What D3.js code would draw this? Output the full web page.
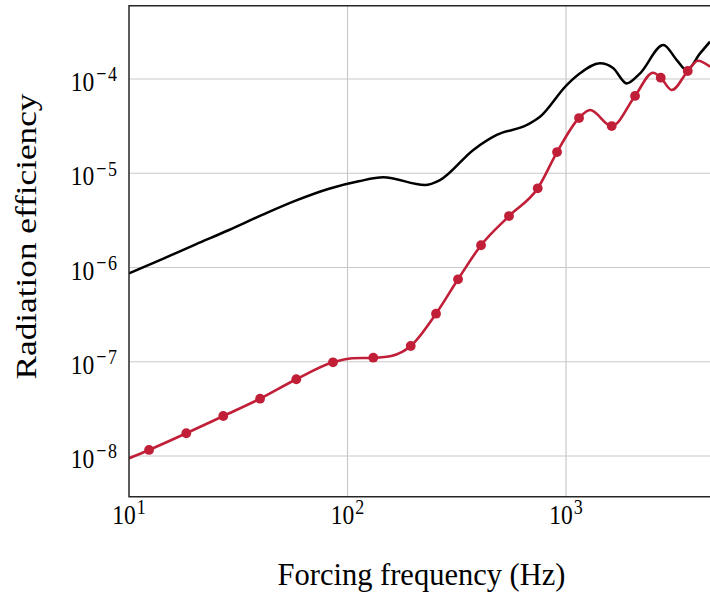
<!DOCTYPE html>
<html><head><meta charset="utf-8">
<script src="https://cdn.jsdelivr.net/npm/d3@7/dist/d3.min.js"></script>
<style>
body{margin:0;background:#fff}
svg{display:block}
text{font-family:"Liberation Serif","Times New Roman",serif;fill:#000}
</style>
</head><body>
<svg id="c" width="710" height="592"></svg>
<script>
// Black curve (frequency in Hz, radiation efficiency)
const blackFreq = [10, 14.2, 20.2, 28.7, 40.7, 57.9, 82.3, 112.5, 145.8, 226.3, 265, 376.5, 481.8, 660.9, 760.3, 1007, 1159, 1431, 1641, 1896, 2182, 2788, 3211, 3567, 4106, 4560];
const blackVal  = [8.67e-7, 1.23e-6, 1.76e-6, 2.50e-6, 3.61e-6, 5.12e-6, 6.85e-6, 8.22e-6, 9.06e-6, 7.50e-6, 8.47e-6, 1.77e-5, 2.55e-5, 3.25e-5, 3.98e-5, 8.63e-5, 1.15e-4, 1.47e-4, 1.31e-4, 8.99e-5, 1.15e-4, 2.30e-4, 1.59e-4, 1.24e-4, 1.87e-4, 2.49e-4];

// Red curve (line)
const redFreq = [10, 12.35, 18.29, 27.0, 39.8, 58.3, 85.8, 104.9, 131.2, 160, 194.6, 254.1, 320.4, 408.3, 548.3, 742.1, 909.6, 1147, 1288, 1618, 2069, 2501, 2713, 3047, 3606, 4018, 4560];
const redVal  = [9.46e-9, 1.159e-8, 1.742e-8, 2.655e-8, 4.055e-8, 6.52e-8, 9.86e-8, 1.089e-7, 1.104e-7, 1.16e-7, 1.469e-7, 3.236e-7, 7.50e-7, 1.722e-6, 3.516e-6, 6.92e-6, 1.679e-5, 3.855e-5, 4.69e-5, 3.17e-5, 6.61e-5, 1.166e-4, 1.033e-4, 7.64e-5, 1.216e-4, 1.563e-4, 1.352e-4];

// Red markers
const markerFreq = [12.35, 18.29, 27.0, 39.8, 58.3, 85.8, 131.2, 194.6, 254.1, 320.4, 408.3, 548.3, 742.1, 909.6, 1147, 1618, 2069, 2713, 3606];
const markerVal  = [1.159e-8, 1.742e-8, 2.655e-8, 4.055e-8, 6.52e-8, 9.86e-8, 1.104e-7, 1.469e-7, 3.236e-7, 7.50e-7, 1.722e-6, 3.516e-6, 6.92e-6, 1.679e-5, 3.855e-5, 3.17e-5, 6.61e-5, 1.033e-4, 1.216e-4];

const xTickExp = [1, 2, 3];
const yTickExp = [-8, -7, -6, -5, -4];
const xLabel = "Forcing frequency (Hz)";
const yLabel = "Radiation efficiency";

const L = 129, T = 5.7, B = 496.7, R = 713.9;
const svg = d3.select("#c");
const x = d3.scaleLog().domain([10, 4750]).range([L, R]);
const y = d3.scaleLog().domain([Math.pow(10, -8.432), Math.pow(10, -3.222)]).range([B, T]);

svg.append("defs").append("clipPath").attr("id", "clip")
  .append("rect").attr("x", L).attr("y", T).attr("width", R - L).attr("height", B - T);

// grid
const grid = svg.append("g").attr("stroke", "#c9c9c9").attr("stroke-width", 1.2);
xTickExp.forEach(e => {
  const v = Math.pow(10, e);
  grid.append("line").attr("x1", x(v)).attr("x2", x(v)).attr("y1", T).attr("y2", B);
});
yTickExp.forEach(e => {
  const v = Math.pow(10, e);
  grid.append("line").attr("x1", L).attr("x2", R).attr("y1", y(v)).attr("y2", y(v));
});

const plot = svg.append("g").attr("clip-path", "url(#clip)");
const line = d3.line().x(d => x(d[0])).y(d => y(d[1])).curve(d3.curveMonotoneX);

plot.append("path").datum(blackFreq.map((f, i) => [f, blackVal[i]]))
  .attr("d", line).attr("fill", "none").attr("stroke", "#000").attr("stroke-width", 2.5);

const red = "#c11f38";
plot.append("path").datum(redFreq.map((f, i) => [f, redVal[i]]))
  .attr("d", line).attr("fill", "none").attr("stroke", red).attr("stroke-width", 2.6);

plot.selectAll("circle.m").data(markerFreq.map((f, i) => [f, markerVal[i]]))
  .enter().append("circle").attr("class", "m")
  .attr("cx", d => x(d[0])).attr("cy", d => y(d[1])).attr("r", 4.9).attr("fill", red);

// frame
const frame = svg.append("g").attr("stroke", "#262626").attr("stroke-width", 1.4).attr("fill", "none");
frame.append("path").attr("d", `M${R},${T}H${L}V${B}H${R}`);

const VS = 1.2; // vertical stretch of tick label glyphs
// y tick labels
yTickExp.forEach(e => {
  const t = svg.append("text")
    .attr("transform", `translate(118.5,${y(Math.pow(10, e)) + 12}) scale(1,${VS})`)
    .attr("text-anchor", "end").attr("font-size", 23.5);
  t.append("tspan").text("10");
  t.append("tspan").attr("font-size", 18).attr("dx", 2).attr("dy", -8).attr("letter-spacing", 1.5).text("\u2212" + Math.abs(e));
});
// x tick labels
xTickExp.forEach(e => {
  const t = svg.append("text")
    .attr("transform", `translate(${x(Math.pow(10, e))},523.5) scale(1,${VS})`)
    .attr("text-anchor", "middle").attr("font-size", 23.5);
  t.append("tspan").text("10");
  t.append("tspan").attr("font-size", 18).attr("dx", 1).attr("dy", -8).text(String(e));
});

// axis labels
svg.append("text").attr("x", 421.5).attr("y", 584.5).attr("text-anchor", "middle")
  .attr("font-size", 30.5).text(xLabel);
svg.append("text").attr("transform", "translate(36,236.5) rotate(-90) scale(1.155,1)").attr("text-anchor", "middle")
  .attr("font-size", 30.5).text(yLabel);
</script>
</body></html>
